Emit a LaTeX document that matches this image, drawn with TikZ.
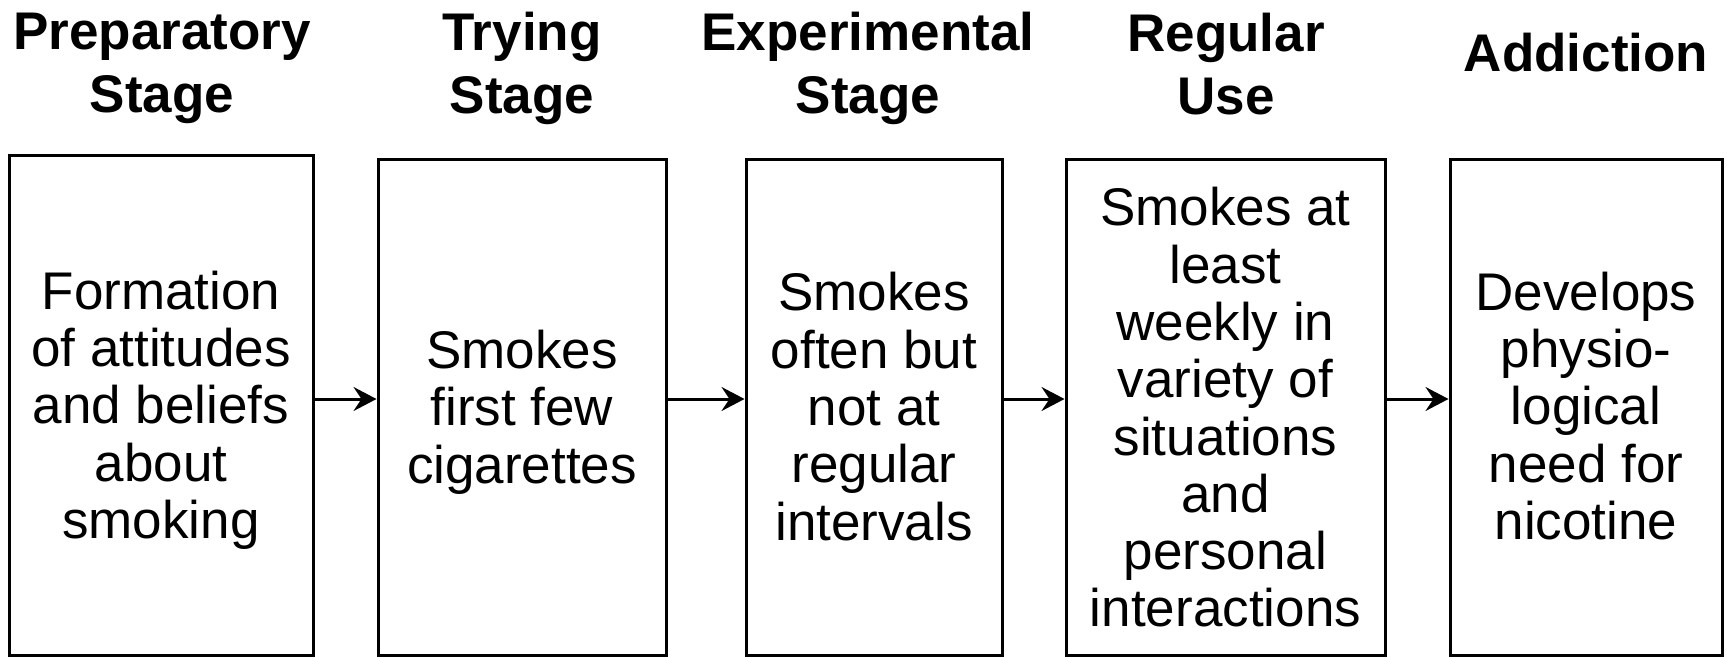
\documentclass[tikz,border=0pt]{standalone}
\usepackage{fontspec}
\setmainfont{Liberation Sans}
\usetikzlibrary{arrows.meta}
\begin{document}
\begin{tikzpicture}[x=1pt,y=-1pt,
  stagebox/.style={draw=black, line width=3pt, fill=white, inner sep=0pt},
  bodytext/.style={align=center, inner sep=0pt, font=\fontsize{53}{57.3}\selectfont},
  header/.style={align=center, inner sep=0pt, font=\fontsize{53}{63}\selectfont\bfseries},
  flow/.style={line width=3pt, -{Stealth[length=23pt, width=24pt, inset=8pt]}}]
\useasboundingbox (0,0) rectangle (1727,658);
\node[stagebox, minimum width=304pt, minimum height=499pt] (b1) at (161,405.5) {};
\node[stagebox, minimum width=288pt, minimum height=495pt] (b2) at (522,407.5) {};
\node[stagebox, minimum width=256pt, minimum height=495pt] (b3) at (874,407.5) {};
\node[stagebox, minimum width=319pt, minimum height=495pt] (b4) at (1225.5,407.5) {};
\node[stagebox, minimum width=272pt, minimum height=495pt] (b5) at (1586,407.5) {};
\node[bodytext, yshift=-4.5pt] (t1) at (b1.center)
  {Formation\\of attitudes\\and beliefs\\about\\smoking};
\node[bodytext, yshift=-4.5pt] (t2) at (b2.center)
  {Smokes\\first few\\cigarettes};
\node[bodytext, yshift=1pt] (t3) at (b3.center)
  {Smokes\\often but\\not at\\regular\\intervals};
\node[bodytext] (t4) at (b4.center)
  {Smokes at\\least\\weekly in\\variety of\\situations\\and\\personal\\interactions};
\node[bodytext, yshift=1.5pt] (t5) at (b5.center)
  {Develops\\physio-\\logical\\need for\\nicotine};
\node[header] (h1) at (162,68) {Preparatory\\Stage};
\node[header] (h2) at (522,68) {Trying\\Stage};
\node[header] (h3) at (868,68) {Experimental\\Stage};
\node[header] (h4) at (1226,64.5) {Regular\\Use};
\node[header] (h5) at (1586,53) {Addiction};
\coordinate (ay) at (0,399);
\draw[flow] (b1.east |- ay) -- (b2.west |- ay);
\draw[flow] (b2.east |- ay) -- (b3.west |- ay);
\draw[flow] (b3.east |- ay) -- (b4.west |- ay);
\draw[flow] (b4.east |- ay) -- (b5.west |- ay);
\end{tikzpicture}
\end{document}
